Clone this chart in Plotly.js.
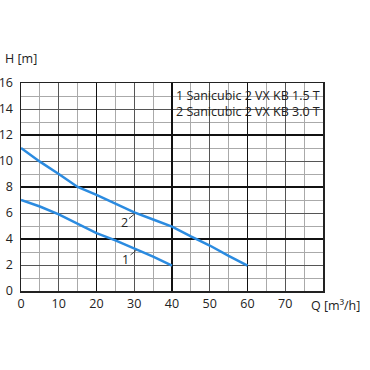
<!DOCTYPE html>
<html><head><meta charset="utf-8">
<script src="https://cdn.plot.ly/plotly-3.0.1.min.js"></script>
<style>html,body{margin:0;padding:0;background:#fff}#c{width:370px;height:370px}</style>
</head><body><div id="c"></div>
<script>
const q1 = [0, 5, 10, 15, 20, 25, 30, 35, 40];
const h1 = [7.0, 6.5, 5.9, 5.2, 4.45, 3.9, 3.3, 2.65, 1.95];
const q2 = [0, 5, 10, 15, 20, 25, 30, 35, 40, 45, 50, 55, 60];
const h2 = [11.0, 9.95, 9.0, 8.0, 7.4, 6.7, 6.05, 5.5, 4.95, 4.2, 3.5, 2.7, 1.95];
const seriesNames = ["1 Sanicubic 2 VX KB 1.5 T", "2 Sanicubic 2 VX KB 3.0 T"];
const xTicks = [0, 10, 20, 30, 40, 50, 60, 70];
const yTicks = [0, 2, 4, 6, 8, 10, 12, 14, 16];

const font = {family: "Open Sans, sans-serif", size: 12.5, color: "#222"};
const blue = "#2b8be0";
const data = [
  {x: q1, y: h1, mode: "lines", line: {color: blue, width: 2.5}, hoverinfo: "skip"},
  {x: q2, y: h2, mode: "lines", line: {color: blue, width: 2.5}, hoverinfo: "skip"},
  {x: [0], y: [0], xaxis: "x2", yaxis: "y2", mode: "markers", marker: {opacity: 0}, hoverinfo: "skip"}
];
const layout = {
  width: 370, height: 370,
  margin: {l: 21, r: 47, t: 83, b: 79},
  paper_bgcolor: "#fff", plot_bgcolor: "#fff",
  showlegend: false, font: font,
  xaxis: {range: [0, 80], tickvals: xTicks, ticktext: xTicks.map(String),
    gridcolor: "#555", gridwidth: 1, zeroline: false,
    minor: {dtick: 5, tick0: 0, showgrid: true, gridcolor: "#aaa", gridwidth: 1},
    showline: true, linecolor: "#222", linewidth: 1.5, mirror: true, ticks: "", fixedrange: true},
  yaxis: {range: [0, 16], tickvals: yTicks, ticktext: yTicks.map(String),
    gridcolor: "#555", gridwidth: 1, zeroline: false,
    minor: {dtick: 1, tick0: 0, showgrid: true, gridcolor: "#aaa", gridwidth: 1},
    showline: true, linecolor: "#222", linewidth: 1.5, mirror: true, ticks: "", ticklabelstandoff: 4, fixedrange: true},
  xaxis2: {overlaying: "x", range: [0, 80], dtick: 20, tick0: 0, showticklabels: false,
    gridcolor: "#111", gridwidth: 1.5, zeroline: false, ticks: "", fixedrange: true},
  yaxis2: {overlaying: "y", range: [0, 16], dtick: 4, tick0: 0, showticklabels: false,
    gridcolor: "#111", gridwidth: 1.5, zeroline: false, ticks: "", fixedrange: true},
  annotations: [
    {xref: "paper", yref: "paper", x: 0, y: 1, xanchor: "left", yanchor: "bottom",
     xshift: -18, yshift: 14, text: "H [m]", showarrow: false, font: font},
    {xref: "x", yref: "paper", x: 80, y: 0, xanchor: "left", yanchor: "top",
     xshift: -14, yshift: -4, text: "Q [m³/h]", showarrow: false, font: font},
    {xref: "x", yref: "y", x: 40.6, y: 14.4, xanchor: "left", yanchor: "middle",
     align: "left", text: seriesNames.join("<br>"), showarrow: false,
     font: {family: font.family, size: 12.5, color: "#222"}},
    {xref: "x", yref: "y", x: 30.2, y: 5.95, ax: -11, ay: 9, text: "2",
     showarrow: true, arrowhead: 0, arrowwidth: 1, arrowcolor: "#444", standoff: 0, startstandoff: 0,
     font: font},
    {xref: "x", yref: "y", x: 30.6, y: 3.15, ax: -11, ay: 9, text: "1",
     showarrow: true, arrowhead: 0, arrowwidth: 1, arrowcolor: "#444", standoff: 0, startstandoff: 0,
     font: font}
  ]
};
Plotly.newPlot("c", data, layout, {displayModeBar: false, staticPlot: true});
</script></body></html>
